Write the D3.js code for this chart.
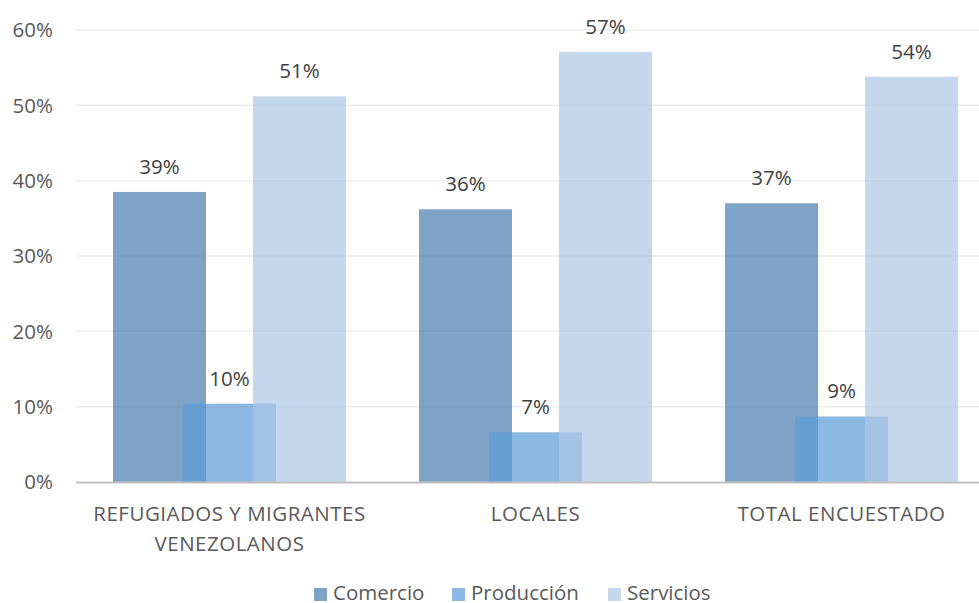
<!DOCTYPE html>
<html><head><meta charset="utf-8">
<script src="https://cdn.jsdelivr.net/npm/d3@7"></script>
<style>body{margin:0;background:#fff}svg{display:block}text{font-family:"Open Sans",sans-serif}</style>
</head><body><svg id="c" width="979" height="603"></svg>
<script>
const categories = ["REFUGIADOS Y MIGRANTES VENEZOLANOS", "LOCALES", "TOTAL ENCUESTADO"];
const series = ["Comercio", "Producción", "Servicios"];
const comercio = [0.385, 0.362, 0.370];
const produccion = [0.104, 0.066, 0.087];
const servicios = [0.512, 0.571, 0.538];
const yTicks = [0, 0.1, 0.2, 0.3, 0.4, 0.5, 0.6];
const values = [comercio, produccion, servicios];
const colors = ["#487cae", "#5b9bd5", "#acc6e5"];
const FS = 20.5;

const svg = d3.select("#c");
const x = d3.scaleBand().domain(categories).range([76.5, 994.5]).padding(0);
const sub = d3.scalePoint().domain(series).range([-70, 70]);
const y = d3.scaleLinear().domain([0, 0.6]).range([482, 30]);
const barW = 93;

// gridlines
svg.append("g").selectAll("line").data(yTicks.filter(d => d > 0)).join("line")
  .attr("x1", 76).attr("x2", 979).attr("y1", d => y(d)).attr("y2", d => y(d))
  .attr("stroke", "#eeeeee").attr("stroke-width", 1.5);

// y tick labels
svg.append("g").selectAll("text").data(yTicks).join("text")
  .attr("x", 53).attr("y", d => y(d)).attr("dy", "0.35em").attr("text-anchor", "end")
  .attr("font-size", FS).attr("fill", "#595959").text(d => d3.format(".0%")(d));

// bars
series.forEach((s, si) => {
  svg.append("g").selectAll("rect").data(categories).join("rect")
    .attr("x", c => x(c) + x.bandwidth() / 2 + sub(s) - barW / 2)
    .attr("width", barW)
    .attr("y", (c, i) => y(values[si][i]))
    .attr("height", (c, i) => y(0) - y(values[si][i]))
    .attr("fill", colors[si]).attr("fill-opacity", 0.7);
});

// data labels
series.forEach((s, si) => {
  svg.append("g").selectAll("text").data(categories).join("text")
    .attr("x", c => x(c) + x.bandwidth() / 2 + sub(s))
    .attr("y", (c, i) => y(values[si][i]) - 18)
    .attr("text-anchor", "middle").attr("font-size", FS).attr("fill", "#404040")
    .text((c, i) => d3.format(".0%")(values[si][i]));
});

// baseline
svg.append("line").attr("x1", 76).attr("x2", 979).attr("y1", y(0) + 0.5).attr("y2", y(0) + 0.5)
  .attr("stroke", "#bfbfbf").attr("stroke-width", 2);

// category labels
const lines = c => c.startsWith("REFUGIADOS") ? ["REFUGIADOS Y MIGRANTES", "VENEZOLANOS"] : [c];
const cg = svg.append("g").selectAll("text").data(categories).join("text")
  .attr("x", c => x(c) + x.bandwidth() / 2).attr("y", 521)
  .attr("text-anchor", "middle").attr("font-size", FS).attr("fill", "#595959")
  .attr("letter-spacing", 0.5);
cg.selectAll("tspan").data(c => lines(c)).join("tspan")
  .attr("x", function () { return d3.select(this.parentNode).attr("x"); })
  .attr("dy", (d, i) => i === 0 ? 0 : 30).text(d => d);

// legend
const legX = [314, 452, 608];
const lg = svg.append("g").selectAll("g").data(series).join("g")
  .attr("transform", (d, i) => `translate(${legX[i]},593)`);
lg.append("rect").attr("x", 0).attr("y", -5).attr("width", 13).attr("height", 13)
  .attr("fill", (d, i) => colors[i]).attr("fill-opacity", 0.7);
lg.append("text").attr("x", 19).attr("dy", "0.35em").attr("font-size", FS)
  .attr("fill", "#595959").text(d => d);
</script></body></html>
